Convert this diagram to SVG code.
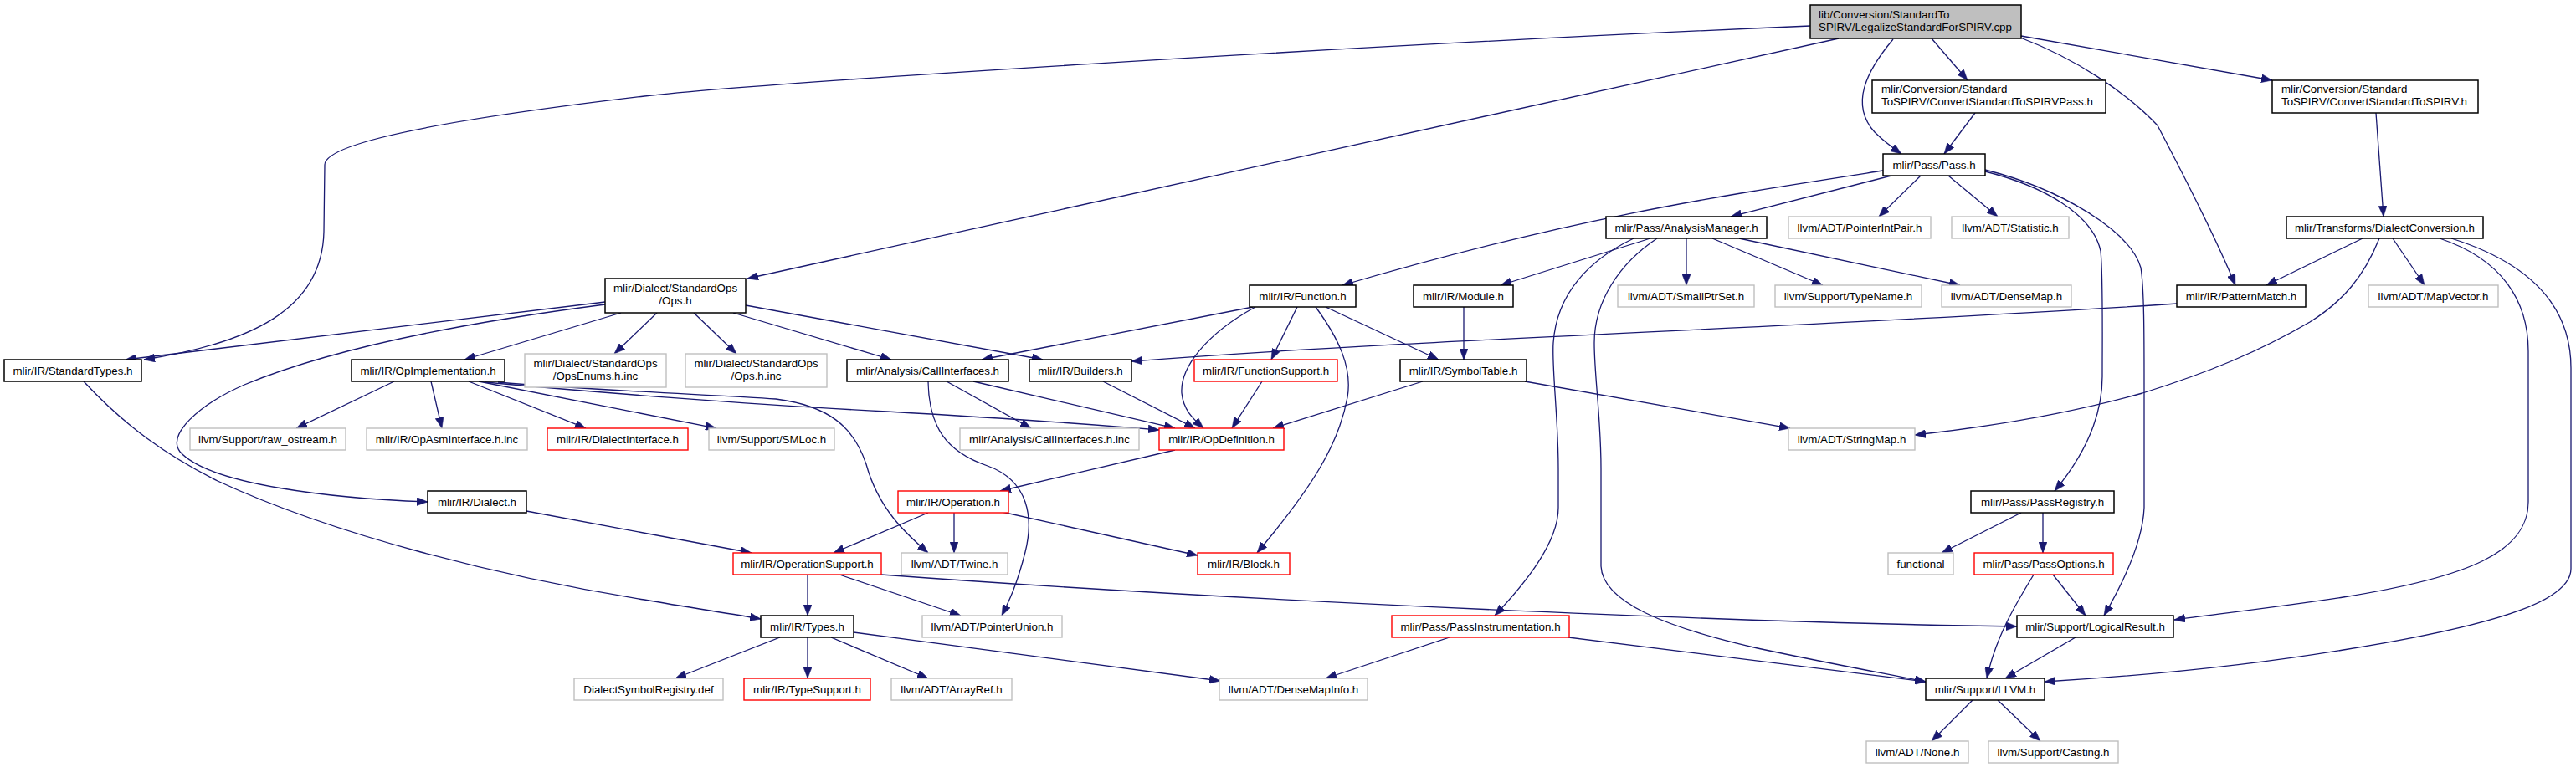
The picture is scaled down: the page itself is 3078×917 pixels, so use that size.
<svg xmlns="http://www.w3.org/2000/svg" width="3078" height="917" viewBox="0 0 3078 917">
<style>
.b{fill:#fff;stroke:#000;stroke-width:1.5}
.g{fill:#fff;stroke:#bfbfbf;stroke-width:1.4}
.r{fill:#fff;stroke:#ff0000;stroke-width:1.4}
.m{fill:#bfbfbf;stroke:#000;stroke-width:1.5}
text{font-family:"Liberation Sans",Arial,sans-serif;font-size:13.33px;fill:#000}
.c{text-anchor:middle}
#edges path{fill:none;stroke:#191970;stroke-width:1.3;marker-end:url(#a)}
</style>
<defs>
<marker id="a" markerUnits="userSpaceOnUse" markerWidth="13" markerHeight="10" viewBox="0 0 13 10" refX="13" refY="5" orient="auto"><path d="M0,0 L13,5 L0,10 z" fill="#191970" stroke="#191970" stroke-width="0.5"/></marker>
</defs>
<rect width="3078" height="917" fill="#fff"/>
<g id="edges">
<path d="M2163,31 C1600,55 900,100 770,115 C540,142 388,170 388,197 L387,277 C385,370 300,410 172,430"/>
<path d="M2197,46 L893,333"/>
<path d="M2262,47 C2230,85 2210,125 2240,158 C2250,168 2262,177 2272,184"/>
<path d="M2308,46 L2351,96"/>
<path d="M2415,43 L2715,96"/>
<path d="M2414,45 C2480,70 2540,110 2578,150 C2620,230 2650,290 2671,341"/>
<path d="M2360,135 L2323,184"/>
<path d="M2839,135 L2848,259"/>
<path d="M2250,204 C2050,235 1880,260 1604,341"/>
<path d="M2260,210 L2068,259"/>
<path d="M2295,210 L2245,259"/>
<path d="M2328,210 L2387,259"/>
<path d="M2372,205 C2440,222 2500,255 2510,300 C2513,330 2512,400 2512,450 C2512,500 2490,545 2455,587"/>
<path d="M2372,203 C2460,225 2545,275 2558,320 C2562,345 2562,400 2562,460 L2562,607 C2560,650 2535,700 2514,736"/>
<path d="M1972,285 L1793,341"/>
<path d="M2015,285 L2015,341"/>
<path d="M2046,285 L2178,341"/>
<path d="M2078,285 L2342,341"/>
<path d="M1952,285 C1900,310 1860,350 1856,410 C1854,440 1862,500 1862,560 L1862,607 C1862,650 1820,700 1786,736"/>
<path d="M1980,285 C1935,315 1905,360 1905,410 C1905,450 1913,500 1913,560 L1913,677 C1915,720 1990,750 2100,775 C2180,792 2240,803 2301,815"/>
<path d="M2823,285 L2708,341"/>
<path d="M2859,285 L2897,341"/>
<path d="M2843,285 C2825,330 2800,360 2760,385 C2700,420 2640,445 2560,470 C2470,495 2380,510 2288,520"/>
<path d="M2915,285 C2990,310 3021,360 3021,420 L3021,600 C3021,660 2950,690 2800,714 C2720,726 2650,734 2598,741"/>
<path d="M2929,285 C3040,320 3072,380 3072,440 L3072,680 C3072,715 3000,745 2800,777 C2690,795 2560,808 2443,815"/>
<path d="M2601,363 C2200,390 1700,405 1352,432"/>
<path d="M723,361 L150,430"/>
<path d="M723,364 C560,385 400,415 292,460 C235,485 200,520 215,540 C250,580 400,596 511,600"/>
<path d="M742,374 L555,430"/>
<path d="M785,374 L734,423"/>
<path d="M829,374 L880,423"/>
<path d="M876,374 L1065,430"/>
<path d="M891,365 L1246,430"/>
<path d="M100,456 C150,510 200,545 260,575 C400,640 600,690 770,717 C820,726 870,733 909,740"/>
<path d="M471,456 L354,512"/>
<path d="M515,456 L528,512"/>
<path d="M560,456 L700,512"/>
<path d="M572,456 L856,512"/>
<path d="M580,457 C700,468 900,484 1060,492 C1200,500 1300,507 1385,514"/>
<path d="M595,457 C700,466 850,472 927,477 C990,485 1020,510 1035,555 C1050,610 1085,640 1109,661"/>
<path d="M1131,456 L1232,512"/>
<path d="M1163,456 L1404,512"/>
<path d="M1109,456 C1110,510 1130,540 1180,557 C1230,575 1235,620 1225,660 C1215,700 1205,720 1197,736"/>
<path d="M1318,456 L1428,512"/>
<path d="M1497,367 L1173,430"/>
<path d="M1550,367 L1519,430"/>
<path d="M1500,367 C1440,400 1410,440 1412,470 C1414,490 1425,500 1438,512"/>
<path d="M1584,367 L1719,430"/>
<path d="M1572,367 C1600,405 1616,440 1610,475 C1600,530 1570,580 1502,661"/>
<path d="M1508,456 L1472,512"/>
<path d="M1700,456 L1521,512"/>
<path d="M1822,456 L2139,512"/>
<path d="M1749,367 L1749,430"/>
<path d="M1404,538 L1195,587"/>
<path d="M1109,613 L996,661"/>
<path d="M1140,613 L1140,661"/>
<path d="M1197,612 L1431,664"/>
<path d="M629,611 L898,661"/>
<path d="M965,687 L965,736"/>
<path d="M1003,687 L1148,736"/>
<path d="M1053,687 C1500,720 2100,745 2410,749"/>
<path d="M932,762 L807,811"/>
<path d="M965,762 L965,811"/>
<path d="M993,762 L1109,811"/>
<path d="M1020,756 L1458,814"/>
<path d="M1732,762 L1584,811"/>
<path d="M1874,762 L2301,815"/>
<path d="M2415,613 L2320,661"/>
<path d="M2441,613 L2441,661"/>
<path d="M2453,687 L2492,736"/>
<path d="M2430,687 C2410,720 2385,760 2374,811"/>
<path d="M2480,762 L2396,811"/>
<path d="M2357,837 L2308,886"/>
<path d="M2387,837 L2438,886"/>
</g>
<g id="n_main"><rect class="m" x="2163" y="6" width="252" height="40"/><text x="2173" y="22">lib/Conversion/StandardTo</text><text x="2173" y="37">SPIRV/LegalizeStandardForSPIRV.cpp</text></g>
<g id="n_convpass"><rect class="b" x="2237" y="96" width="279" height="39"/><text x="2248" y="111">mlir/Conversion/Standard</text><text x="2248" y="126">ToSPIRV/ConvertStandardToSPIRVPass.h</text></g>
<g id="n_conv"><rect class="b" x="2715" y="96" width="246" height="39"/><text x="2726" y="111">mlir/Conversion/Standard</text><text x="2726" y="126">ToSPIRV/ConvertStandardToSPIRV.h</text></g>
<g id="n_pass"><rect class="b" x="2250" y="184" width="122" height="26"/><text class="c" x="2311" y="202">mlir/Pass/Pass.h</text></g>
<g id="n_am"><rect class="b" x="1919" y="259" width="192" height="26"/><text class="c" x="2015" y="277">mlir/Pass/AnalysisManager.h</text></g>
<g id="n_pip"><rect class="g" x="2137" y="259" width="170" height="26"/><text class="c" x="2222" y="277">llvm/ADT/PointerIntPair.h</text></g>
<g id="n_stat"><rect class="g" x="2332" y="259" width="140" height="26"/><text class="c" x="2402" y="277">llvm/ADT/Statistic.h</text></g>
<g id="n_dc"><rect class="b" x="2732" y="259" width="235" height="26"/><text class="c" x="2849.5" y="277">mlir/Transforms/DialectConversion.h</text></g>
<g id="n_ops"><rect class="b" x="723" y="333" width="168" height="41"/><text class="c" x="807" y="349">mlir/Dialect/StandardOps</text><text class="c" x="807" y="364">/Ops.h</text></g>
<g id="n_func"><rect class="b" x="1493" y="341" width="127" height="26"/><text class="c" x="1556.5" y="359">mlir/IR/Function.h</text></g>
<g id="n_mod"><rect class="b" x="1689" y="341" width="119" height="26"/><text class="c" x="1748.5" y="359">mlir/IR/Module.h</text></g>
<g id="n_sps"><rect class="g" x="1933" y="341" width="163" height="26"/><text class="c" x="2014.5" y="359">llvm/ADT/SmallPtrSet.h</text></g>
<g id="n_tn"><rect class="g" x="2121" y="341" width="175" height="26"/><text class="c" x="2208.5" y="359">llvm/Support/TypeName.h</text></g>
<g id="n_dm"><rect class="g" x="2320" y="341" width="155" height="26"/><text class="c" x="2397.5" y="359">llvm/ADT/DenseMap.h</text></g>
<g id="n_pm"><rect class="b" x="2601" y="341" width="154" height="26"/><text class="c" x="2678" y="359">mlir/IR/PatternMatch.h</text></g>
<g id="n_mv"><rect class="g" x="2830" y="341" width="155" height="26"/><text class="c" x="2907.5" y="359">llvm/ADT/MapVector.h</text></g>
<g id="n_st"><rect class="b" x="5" y="430" width="164" height="26"/><text class="c" x="87" y="448">mlir/IR/StandardTypes.h</text></g>
<g id="n_oi"><rect class="b" x="420" y="430" width="183" height="26"/><text class="c" x="511.5" y="448">mlir/IR/OpImplementation.h</text></g>
<g id="n_oe"><rect class="g" x="627" y="423" width="169" height="40"/><text class="c" x="711.5" y="439">mlir/Dialect/StandardOps</text><text class="c" x="711.5" y="454">/OpsEnums.h.inc</text></g>
<g id="n_oinc"><rect class="g" x="819" y="423" width="169" height="40"/><text class="c" x="903.5" y="439">mlir/Dialect/StandardOps</text><text class="c" x="903.5" y="454">/Ops.h.inc</text></g>
<g id="n_ci"><rect class="b" x="1012" y="430" width="193" height="26"/><text class="c" x="1108.5" y="448">mlir/Analysis/CallInterfaces.h</text></g>
<g id="n_bld"><rect class="b" x="1230" y="430" width="122" height="26"/><text class="c" x="1291" y="448">mlir/IR/Builders.h</text></g>
<g id="n_fs"><rect class="r" x="1427" y="430" width="171" height="26"/><text class="c" x="1512.5" y="448">mlir/IR/FunctionSupport.h</text></g>
<g id="n_sym"><rect class="b" x="1673" y="430" width="151" height="26"/><text class="c" x="1748.5" y="448">mlir/IR/SymbolTable.h</text></g>
<g id="n_ros"><rect class="g" x="227" y="512" width="186" height="26"/><text class="c" x="320" y="530">llvm/Support/raw_ostream.h</text></g>
<g id="n_oai"><rect class="g" x="438" y="512" width="192" height="26"/><text class="c" x="534" y="530">mlir/IR/OpAsmInterface.h.inc</text></g>
<g id="n_di"><rect class="r" x="654" y="512" width="168" height="26"/><text class="c" x="738" y="530">mlir/IR/DialectInterface.h</text></g>
<g id="n_sml"><rect class="g" x="847" y="512" width="150" height="26"/><text class="c" x="922" y="530">llvm/Support/SMLoc.h</text></g>
<g id="n_ciinc"><rect class="g" x="1147" y="512" width="214" height="26"/><text class="c" x="1254" y="530">mlir/Analysis/CallInterfaces.h.inc</text></g>
<g id="n_od"><rect class="r" x="1385" y="512" width="149" height="26"/><text class="c" x="1459.5" y="530">mlir/IR/OpDefinition.h</text></g>
<g id="n_sm"><rect class="g" x="2137" y="512" width="151" height="26"/><text class="c" x="2212.5" y="530">llvm/ADT/StringMap.h</text></g>
<g id="n_dia"><rect class="b" x="511" y="587" width="118" height="26"/><text class="c" x="570" y="605">mlir/IR/Dialect.h</text></g>
<g id="n_op"><rect class="r" x="1073" y="587" width="132" height="26"/><text class="c" x="1139" y="605">mlir/IR/Operation.h</text></g>
<g id="n_pr"><rect class="b" x="2355" y="587" width="171" height="26"/><text class="c" x="2440.5" y="605">mlir/Pass/PassRegistry.h</text></g>
<g id="n_os"><rect class="r" x="876" y="661" width="177" height="26"/><text class="c" x="964.5" y="679">mlir/IR/OperationSupport.h</text></g>
<g id="n_tw"><rect class="g" x="1077" y="661" width="127" height="26"/><text class="c" x="1140.5" y="679">llvm/ADT/Twine.h</text></g>
<g id="n_blk"><rect class="r" x="1431" y="661" width="110" height="26"/><text class="c" x="1486" y="679">mlir/IR/Block.h</text></g>
<g id="n_fn"><rect class="g" x="2256" y="661" width="78" height="26"/><text class="c" x="2295" y="679">functional</text></g>
<g id="n_po"><rect class="r" x="2359" y="661" width="166" height="26"/><text class="c" x="2442" y="679">mlir/Pass/PassOptions.h</text></g>
<g id="n_ty"><rect class="b" x="909" y="736" width="111" height="26"/><text class="c" x="964.5" y="754">mlir/IR/Types.h</text></g>
<g id="n_pu"><rect class="g" x="1102" y="736" width="167" height="26"/><text class="c" x="1185.5" y="754">llvm/ADT/PointerUnion.h</text></g>
<g id="n_pi"><rect class="r" x="1663" y="736" width="212" height="26"/><text class="c" x="1769" y="754">mlir/Pass/PassInstrumentation.h</text></g>
<g id="n_lr"><rect class="b" x="2410" y="736" width="187" height="26"/><text class="c" x="2503.5" y="754">mlir/Support/LogicalResult.h</text></g>
<g id="n_dsr"><rect class="g" x="686" y="811" width="178" height="26"/><text class="c" x="775" y="829">DialectSymbolRegistry.def</text></g>
<g id="n_ts"><rect class="r" x="889" y="811" width="151" height="26"/><text class="c" x="964.5" y="829">mlir/IR/TypeSupport.h</text></g>
<g id="n_ar"><rect class="g" x="1065" y="811" width="144" height="26"/><text class="c" x="1137" y="829">llvm/ADT/ArrayRef.h</text></g>
<g id="n_dmi"><rect class="g" x="1457" y="811" width="177" height="26"/><text class="c" x="1545.5" y="829">llvm/ADT/DenseMapInfo.h</text></g>
<g id="n_llvm"><rect class="b" x="2301" y="811" width="142" height="26"/><text class="c" x="2372" y="829">mlir/Support/LLVM.h</text></g>
<g id="n_none"><rect class="g" x="2230" y="886" width="122" height="26"/><text class="c" x="2291" y="904">llvm/ADT/None.h</text></g>
<g id="n_cast"><rect class="g" x="2376" y="886" width="155" height="26"/><text class="c" x="2453.5" y="904">llvm/Support/Casting.h</text></g>
</svg>
